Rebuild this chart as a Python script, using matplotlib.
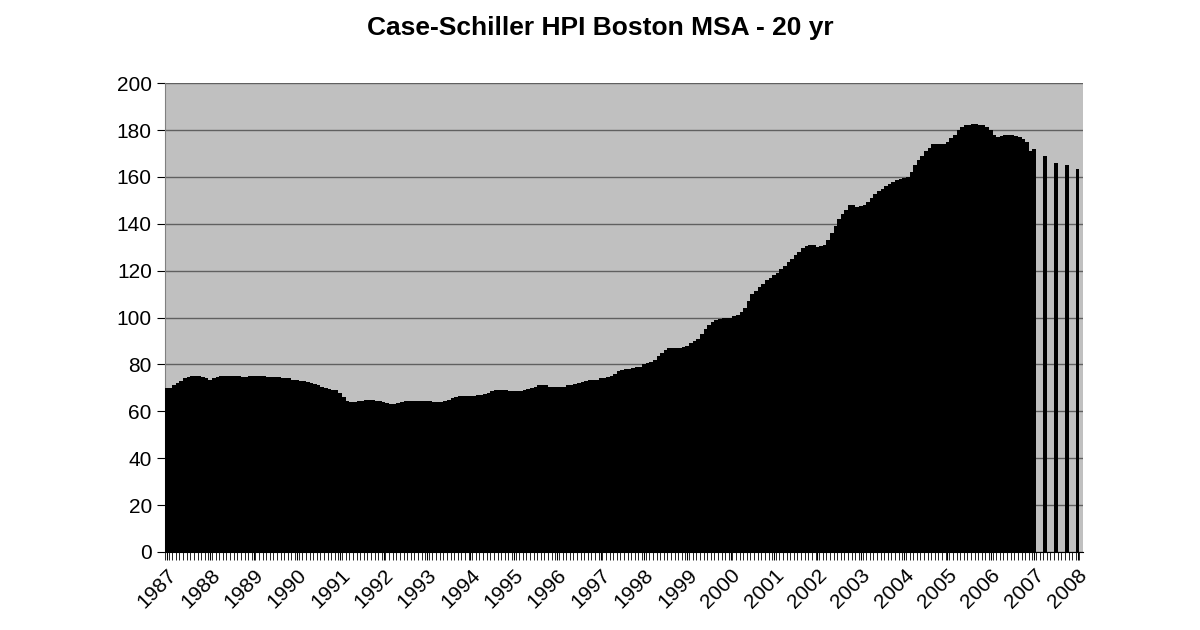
import matplotlib
matplotlib.use("Agg")
import matplotlib.pyplot as plt
import numpy as np

plt.rcParams['font.family'] = ['Liberation Sans', 'DejaVu Sans']

years = list(range(1987, 2009))
monthly = {
 1987: [70, 70, 71, 72, 73, 74, 74.5, 75, 75, 75, 74.5, 74],
 1988: [73.5, 74, 74.5, 75, 75, 75, 75, 75, 75, 74.5, 74.5, 75],
 1989: [75, 75, 75, 75, 74.5, 74.5, 74.5, 74.5, 74, 74, 74, 73.5],
 1990: [73.5, 73, 73, 72.5, 72, 71.5, 71, 70.5, 70, 69.5, 69, 69],
 1991: [68, 66, 64.5, 64, 64, 64.5, 64.5, 65, 65, 65, 64.5, 64.5],
 1992: [64, 63.5, 63, 63, 63.5, 64, 64.5, 64.5, 64.5, 64.5, 64.5, 64.5],
 1993: [64.5, 64.5, 64, 64, 64, 64.5, 65, 65.5, 66, 66.5, 66.5, 66.5],
 1994: [66.5, 66.5, 67, 67, 67.5, 68, 68.5, 69, 69, 69, 69, 68.5],
 1995: [68.5, 68.5, 68.5, 69, 69.5, 70, 70.5, 71, 71, 71, 70.5, 70.5],
 1996: [70.5, 70.5, 70.5, 71, 71, 71.5, 72, 72.5, 73, 73.5, 73.5, 73.5],
 1997: [74, 74, 74.5, 75, 76, 77, 77.5, 78, 78, 78.5, 79, 79],
 1998: [80, 80.5, 81, 82, 83.5, 85, 86, 87, 87, 87, 87, 87.5],
 1999: [88, 89, 90, 91, 93, 95, 97, 98, 99, 99.5, 100, 100],
 2000: [100, 100.5, 101, 102.5, 104, 107, 110, 111.5, 113, 114.5, 116, 117],
 2001: [118, 119, 120.5, 122, 123.5, 125, 126.5, 128, 129.5, 130.5, 131, 131],
 2002: [130, 130.5, 131, 133, 136, 139, 142, 144, 146, 148, 148, 147],
 2003: [147.5, 148, 149.5, 151, 152.5, 154, 155, 156, 157, 158, 158.5, 159],
 2004: [159.5, 160, 162, 165, 167, 169, 171, 172.5, 174, 174, 174, 174],
 2005: [175, 176.5, 178, 180, 181.5, 182, 182, 182.5, 182.5, 182, 182, 181.5],
 2006: [180, 178, 177, 177.5, 178, 178, 178, 177.5, 177, 176, 175, 171],
}
futures = [172, 169, 166, 165, 163.5]

values = []
for y in range(1987, 2007):
    values += monthly[y]
for f in futures:
    values += [f, np.nan, np.nan]
values = values[:254]
while len(values) < 254:
    values.append(np.nan)
values = np.array(values, dtype=float)

fig = plt.figure(figsize=(12, 6.3), dpi=100)
ax = fig.add_axes([0.1375, 0.124, 0.765, 0.744])
ax.set_facecolor('#c0c0c0')
x = np.arange(len(values))
ax.bar(x, np.nan_to_num(values), width=1.0, color='black', edgecolor='none', align='edge', zorder=3)
ax.set_xlim(0, len(values))
ax.set_ylim(0, 200)
ax.set_yticks(range(0, 201, 20))
ax.yaxis.grid(True, color='#606060', linewidth=1, zorder=1)
ax.tick_params(axis='y', labelsize=15, length=6, direction='out')
ax.set_xticks(x, minor=True)
ax.set_xticks([12 * i + 0.5 for i in range(len(years))])
ax.set_xticklabels([str(y) for y in years], rotation=45, ha='right', rotation_mode='anchor', fontsize=15)
ax.tick_params(axis='x', which='major', length=6, pad=4)
ax.tick_params(axis='x', which='minor', length=6, width=0.6)
for s in ['top', 'right']:
    ax.spines[s].set_visible(False)
ax.spines['left'].set_color('#808080')
ax.spines['bottom'].set_color('black')
fig.text(0.5, 0.955, 'Case-Schiller HPI Boston MSA - 20 yr', ha='center', va='center', fontsize=19, fontweight='bold')
fig.savefig('out.png', dpi=100, facecolor='white')
